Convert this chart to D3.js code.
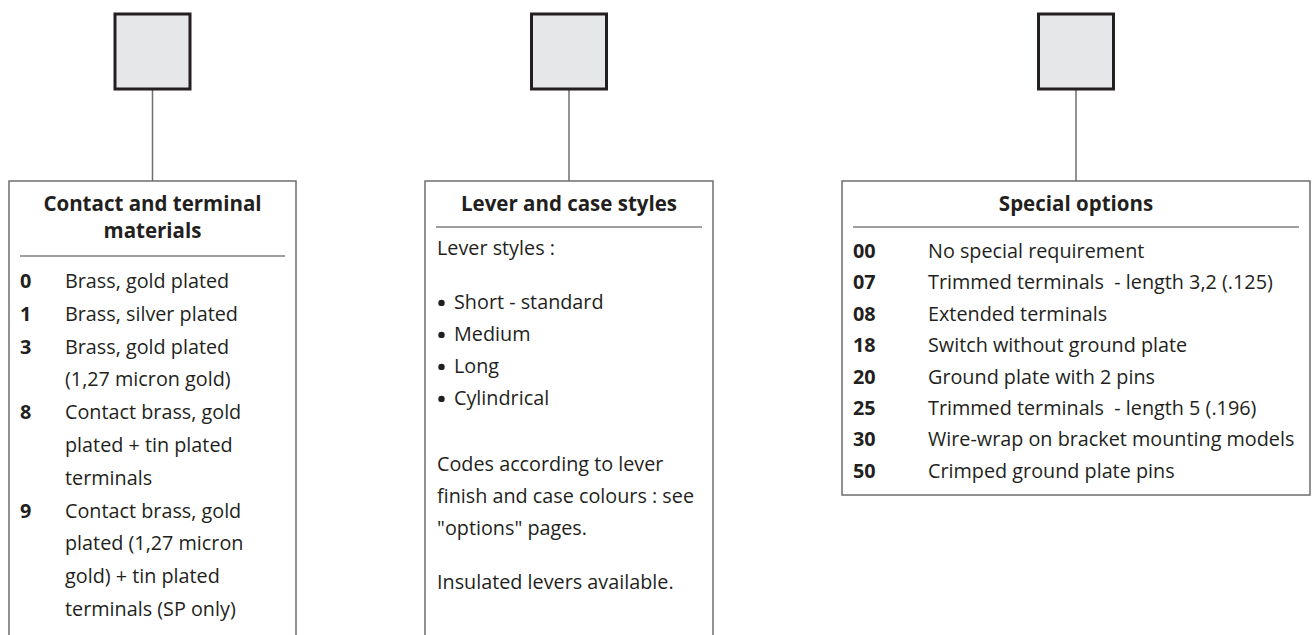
<!DOCTYPE html>
<html>
<head>
<meta charset="utf-8">
<script src="https://cdn.jsdelivr.net/npm/d3@7"></script>
<style>
    body { margin: 0; background: #fff; }
    svg { display: block; }
    text { font-family: "Open Sans", sans-serif; fill: #231f20; white-space: pre; }
</style>
</head>
<body>
<div id="chart"></div>
<script>
// --- data ---
const panelTitles = [
    ["Contact and terminal", "materials"],
    ["Lever and case styles"],
    ["Special options"]
];

const materialCodes = ["0", "1", "3", "8", "9"];
const materialLabels = [
    ["Brass, gold plated"],
    ["Brass, silver plated"],
    ["Brass, gold plated", "(1,27 micron gold)"],
    ["Contact brass, gold", "plated + tin plated", "terminals"],
    ["Contact brass, gold", "plated (1,27 micron", "gold) + tin plated", "terminals (SP only)"]
];

const leverIntro = "Lever styles :";
const leverStyles = ["Short - standard", "Medium", "Long", "Cylindrical"];
const leverNotes = ["Codes according to lever", "finish and case colours : see", "\"options\" pages."];
const leverFooter = "Insulated levers available.";

const optionCodes = ["00", "07", "08", "18", "20", "25", "30", "50"];
const optionLabels = [
    "No special requirement",
    "Trimmed terminals  - length 3,2 (.125)",
    "Extended terminals",
    "Switch without ground plate",
    "Ground plate with 2 pins",
    "Trimmed terminals  - length 5 (.196)",
    "Wire-wrap on bracket mounting models",
    "Crimped ground plate pins"
];

// --- layout ---
const width = 1316, height = 635;
const boxTop = 181;
const bodySize = 19.8;
const panels = [
    { x: 9,   w: 287, bottom: 660, sep: 256 },
    { x: 425, w: 288, bottom: 660, sep: 227 },
    { x: 842, w: 468, bottom: 495, sep: 227 }
];

const svg = d3.select("#chart").append("svg")
    .attr("width", width)
    .attr("height", height);

panels.forEach((p, i) => {
    const cx = p.x + p.w / 2;
    const g = svg.append("g");

    // connector line from square to box
    g.append("line")
        .attr("x1", cx).attr("x2", cx)
        .attr("y1", 89).attr("y2", boxTop)
        .attr("stroke", "#6d6e70")
        .attr("stroke-width", 1.5);

    g.append("rect")
        .attr("x", cx - 37.5).attr("y", 14)
        .attr("width", 75).attr("height", 75)
        .attr("fill", "#e6e7e8")
        .attr("stroke", "#231f20")
        .attr("stroke-width", 3);

    g.append("rect")
        .attr("x", p.x).attr("y", boxTop)
        .attr("width", p.w).attr("height", p.bottom - boxTop)
        .attr("fill", "none")
        .attr("stroke", "#6d6e70")
        .attr("stroke-width", 1.5);

    g.append("line")
        .attr("x1", p.x + 11).attr("x2", p.x + p.w - 11)
        .attr("y1", p.sep).attr("y2", p.sep)
        .attr("stroke", "#414042")
        .attr("stroke-width", 1.2);

    g.selectAll("text.title")
        .data(panelTitles[i])
        .join("text")
        .attr("class", "title")
        .attr("x", cx)
        .attr("y", (d, k) => 211 + k * 27)
        .attr("text-anchor", "middle")
        .attr("font-size", 20.5)
        .attr("font-weight", 700)
        .text(d => d);
});

// panel 1: contact and terminal materials
const matRows = [];
materialLabels.forEach((lines, i) => {
    lines.forEach((t, k) => matRows.push({ code: k === 0 ? materialCodes[i] : "", text: t }));
});
const y1 = d3.scaleLinear().domain([0, 1]).range([288, 320.8]);

svg.append("g").selectAll("text")
    .data(matRows.filter(d => d.code))
    .join("text")
    .attr("x", 20)
    .attr("y", d => y1(matRows.indexOf(d)))
    .attr("font-size", bodySize)
    .attr("font-weight", 700)
    .text(d => d.code);

svg.append("g").selectAll("text")
    .data(matRows)
    .join("text")
    .attr("x", 65)
    .attr("y", (d, i) => y1(i))
    .attr("font-size", bodySize)
    .text(d => d.text);

// panel 2: lever and case styles
const leverRows = [
    { text: leverIntro, slot: 0 },
    ...leverStyles.map((t, i) => ({ text: t, bullet: true, slot: 1.7 + i })),
    ...leverNotes.map((t, i) => ({ text: t, slot: 6.75 + i })),
    { text: leverFooter, slot: 10.45 }
];
const y2 = d3.scaleLinear().domain([0, 1]).range([255, 287]);

svg.append("g").selectAll("circle")
    .data(leverRows.filter(d => d.bullet))
    .join("circle")
    .attr("cx", 441.5)
    .attr("cy", d => y2(d.slot) - 6.5)
    .attr("r", 3.2)
    .attr("fill", "#231f20");

svg.append("g").selectAll("text")
    .data(leverRows)
    .join("text")
    .attr("x", d => d.bullet ? 454 : 437)
    .attr("y", d => y2(d.slot))
    .attr("font-size", bodySize)
    .text(d => d.text);

// panel 3: special options
const y3 = d3.scaleLinear().domain([0, 1]).range([258, 289.4]);

svg.append("g").selectAll("text")
    .data(optionCodes)
    .join("text")
    .attr("x", 853)
    .attr("y", (d, i) => y3(i))
    .attr("font-size", bodySize)
    .attr("font-weight", 700)
    .text(d => d);

svg.append("g").selectAll("text")
    .data(optionLabels)
    .join("text")
    .attr("x", 928)
    .attr("y", (d, i) => y3(i))
    .attr("font-size", bodySize)
    .text(d => d);
</script>
</body>
</html>
